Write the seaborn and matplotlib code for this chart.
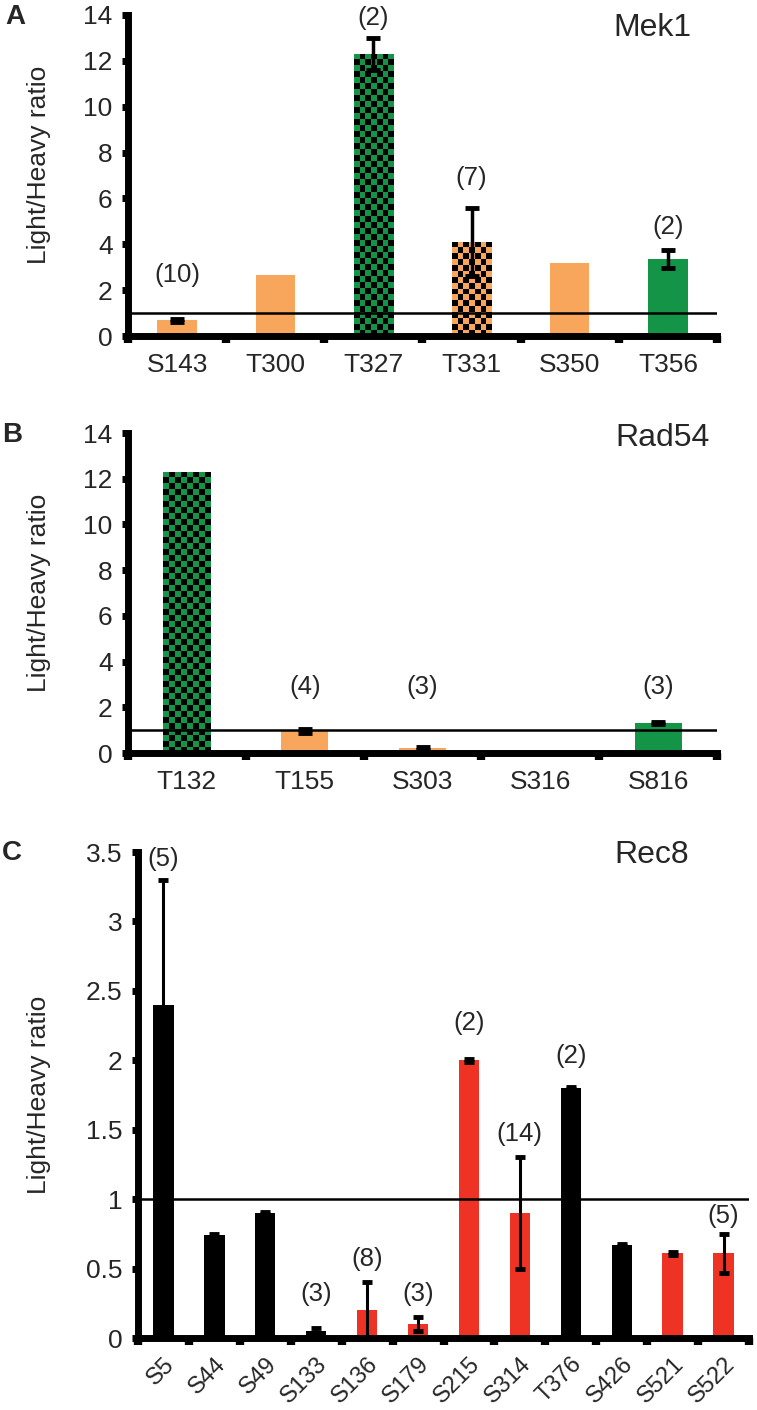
import numpy as np
import pandas as pd
import matplotlib
matplotlib.use("Agg")
import matplotlib.pyplot as plt
from matplotlib.colors import ListedColormap
import seaborn as sns

ORANGE = "#F7A65C"
GREEN = "#149447"
RED = "#EE3224"
BLACK = "#000000"
nan = np.nan

# Panel A: Mek1
mek1_sites = ["S143", "T300", "T327", "T331", "S350", "T356"]
mek1_ratio = [0.68, 2.65, 12.3, 4.1, 3.2, 3.35]
mek1_err = [0.06, nan, 0.7, 1.5, nan, 0.38]
mek1_colors = [ORANGE, ORANGE, GREEN, ORANGE, ORANGE, GREEN]
mek1_checker = [False, False, True, True, False, False]
mek1_n = ["(10)", "", "(2)", "(7)", "", "(2)"]
mek1_n_y = [2.65, nan, 13.87, 6.9, nan, 4.74]

# Panel B: Rad54
rad54_sites = ["T132", "T155", "S303", "S316", "S816"]
rad54_ratio = [12.3, 0.95, 0.2, 0.0, 1.3]
rad54_err = [nan, 0.08, 0.05, nan, 0.05]
rad54_colors = [GREEN, ORANGE, ORANGE, ORANGE, GREEN]
rad54_checker = [True, False, False, False, False]
rad54_n = ["", "(4)", "(3)", "", "(3)"]
rad54_n_y = [nan, 2.87, 2.87, nan, 2.87]

# Panel C: Rec8
rec8_sites = ["S5", "S44", "S49", "S133", "S136", "S179",
              "S215", "S314", "T376", "S426", "S521", "S522"]
rec8_ratio = [2.4, 0.74, 0.9, 0.05, 0.2, 0.1, 2.0, 0.9, 1.8, 0.67, 0.61, 0.61]
rec8_err = [0.9, 0.01, 0.01, 0.02, 0.2, 0.05, 0.01, 0.4, 0.01, 0.01, 0.01, 0.14]
rec8_colors = [BLACK, BLACK, BLACK, BLACK, RED, RED,
               RED, RED, BLACK, BLACK, RED, RED]
rec8_checker = [False] * 12
rec8_n = ["(5)", "", "", "(3)", "(8)", "(3)", "(2)", "(14)", "(2)", "", "", "(5)"]
rec8_n_y = [3.45, nan, nan, 0.32, 0.57, 0.32, 2.27, 1.47, 2.03, nan, nan, 0.88]

sns.set_theme(style="ticks")
plt.rcParams["font.family"] = ["Liberation Sans", "DejaVu Sans"]

fig = plt.figure(figsize=(7.57, 14.1), dpi=100)


def add_checker(ax, bar, color, cell_px=6):
    bb = bar.get_window_extent()
    nx = max(1, int(round(bb.width / cell_px)))
    ny = max(1, int(round(bb.height / cell_px)))
    grid = np.indices((ny, nx)).sum(axis=0) % 2
    x0, y0 = bar.get_x(), bar.get_y()
    im = ax.imshow(grid, cmap=ListedColormap([color, "black"]),
                   extent=(x0, x0 + bar.get_width(), y0, y0 + bar.get_height()),
                   origin="lower", interpolation="nearest", aspect="auto",
                   zorder=bar.get_zorder() + 0.1)
    im.set_clip_path(bar)


def draw_panel(rect, sites, ratio, err, colors, checker, notes, note_y,
               ymax, yticks, yticklabels, name, name_pos, letter, letter_pos,
               rotate=False, capsize=5, elw=2.5, ylabel_y=0.5, ylabel_x=-0.13):
    ax = fig.add_axes(rect)
    df = pd.DataFrame({"site": sites, "ratio": ratio})
    sns.barplot(data=df, x="site", y="ratio", hue="site",
                palette=dict(zip(sites, colors)), width=0.4, saturation=1,
                errorbar=None, legend=False, linewidth=0, ax=ax)
    n = len(sites)
    ax.set_xlim(-0.5, n - 0.5)
    ax.set_ylim(0, ymax)

    for bar, chk, col in zip(ax.patches, checker, colors):
        if chk:
            add_checker(ax, bar, col)

    idx = [i for i, e in enumerate(err) if not np.isnan(e)]
    ax.errorbar(idx, [ratio[i] for i in idx], yerr=[err[i] for i in idx],
                fmt="none", ecolor="black", elinewidth=elw,
                capsize=capsize, capthick=3.5, zorder=4)

    ax.axhline(1, color="black", lw=1.8, zorder=3)

    for i, (t, y) in enumerate(zip(notes, note_y)):
        if t:
            ax.text(i, y, t, ha="center", va="center", fontsize=18.5)

    # spines
    sns.despine(ax=ax)
    for s in ("left", "bottom"):
        ax.spines[s].set_linewidth(5)
        ax.spines[s].set_color("black")

    ax.set_yticks(yticks)
    ax.set_yticklabels(yticklabels)
    ax.tick_params(axis="y", direction="out", length=4, width=5,
                   color="black", pad=7, labelsize=19)

    ax.set_xticks(np.arange(-0.5, n, 1.0))
    ax.set_xticklabels([])
    ax.tick_params(axis="x", which="major", direction="out", length=5,
                   width=6, color="black")
    ax.set_xticks(np.arange(n), minor=True)
    if rotate:
        ax.set_xticklabels(sites, minor=True, rotation=45, ha="right",
                           rotation_mode="anchor")
        ax.tick_params(axis="x", which="minor", length=0, pad=11, labelsize=17)
    else:
        ax.set_xticklabels(sites, minor=True)
        ax.tick_params(axis="x", which="minor", length=0, pad=12, labelsize=19)

    ax.set_xlabel("")
    ax.set_ylabel("Light/Heavy ratio", fontsize=19)
    ax.yaxis.set_label_coords(ylabel_x, ylabel_y)

    ax.text(name_pos[0], name_pos[1], name, transform=ax.transAxes,
            ha="center", va="center", fontsize=23)
    fig.text(letter_pos[0], letter_pos[1], letter, ha="center", va="center",
             fontsize=20, fontweight="bold")
    return ax


draw_panel([128 / 757, 1 - 336 / 1410, 589 / 757, 321 / 1410],
           mek1_sites, mek1_ratio, mek1_err, mek1_colors, mek1_checker,
           mek1_n, mek1_n_y, 14, list(range(0, 15, 2)),
           [str(v) for v in range(0, 15, 2)],
           "Mek1", (0.89, 0.96), "A", (15 / 757, 1 - 17 / 1410),
           ylabel_y=0.533, ylabel_x=-0.131)

draw_panel([128 / 757, 1 - 753 / 1410, 589 / 757, 320 / 1410],
           rad54_sites, rad54_ratio, rad54_err, rad54_colors, rad54_checker,
           rad54_n, rad54_n_y, 14, list(range(0, 15, 2)),
           [str(v) for v in range(0, 15, 2)],
           "Rad54", (0.907, 0.985), "B", (12 / 757, 1 - 435 / 1410),
           ylabel_x=-0.131)

rec8_ticks = [0, 0.5, 1, 1.5, 2, 2.5, 3, 3.5]
rec8_ticklabels = ["0", "0.5", "1", "1.5", "2", "2.5", "3", "3.5"]
draw_panel([138 / 757, 1 - 1338 / 1410, 611 / 757, 486 / 1410],
           rec8_sites, rec8_ratio, rec8_err, rec8_colors, rec8_checker,
           rec8_n, rec8_n_y, 3.5, rec8_ticks, rec8_ticklabels,
           "Rec8", (0.841, 0.994), "C", (12 / 757, 1 - 853 / 1410),
           rotate=True, capsize=3.5, elw=2.2, ylabel_x=-0.142)

fig.savefig("out.png", dpi=100)
